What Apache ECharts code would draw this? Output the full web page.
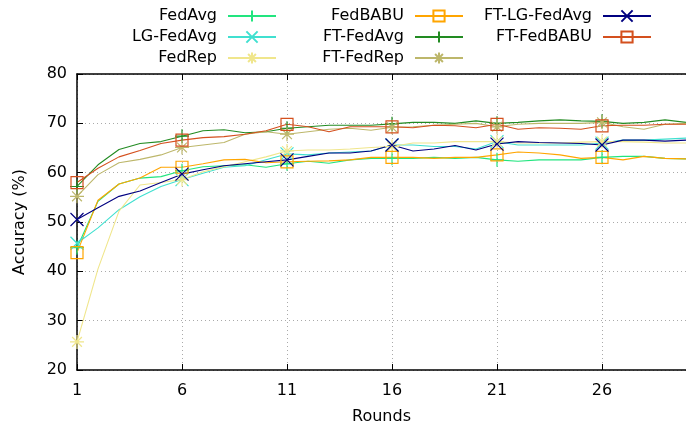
<!DOCTYPE html>
<html>
<head>
<meta charset="utf-8">
<script src="https://cdn.jsdelivr.net/npm/echarts@6/dist/echarts.min.js"></script>
<style>
  html, body { margin: 0; padding: 0; background: #fff; }
  #chart { width: 686px; height: 430px; }
</style>
</head>
<body>
<div id="chart"></div>
<script>
// Rounds 1..30
const rounds = Array.from({ length: 30 }, (_, i) => String(i + 1));
const yTicks = [20, 30, 40, 50, 60, 70, 80];

// Test accuracy (%) per round
const fedAvg = [44.8, 54.2, 57.7, 58.9, 59.2, 60.4, 61.2, 61.4, 61.6, 61.1,
  61.8, 62.3, 61.9, 62.6, 62.9, 62.9, 62.9, 63.1, 62.9, 63.1,
  62.6, 62.3, 62.6, 62.6, 62.6, 63.1, 63.3, 63.3, 62.9, 62.8];
const lgFedAvg = [45.7, 48.8, 52.5, 55.1, 57.2, 58.6, 59.9, 61.1, 61.4, 62.6,
  63.8, 63.6, 64.0, 64.2, 64.4, 65.6, 65.6, 65.3, 65.3, 64.8,
  66.3, 65.6, 65.6, 65.6, 65.6, 66.0, 66.6, 66.6, 66.8, 67.0];
const fedRep = [25.7, 40.5, 52.2, 57.5, 58.0, 58.6, 60.2, 61.2, 62.2, 63.2,
  64.4, 64.6, 64.6, 64.8, 65.1, 65.3, 66.0, 66.0, 66.3, 66.3,
  66.3, 66.0, 66.0, 66.0, 66.2, 66.3, 66.3, 66.2, 66.0, 66.0];
const fedBabu = [43.8, 54.4, 57.7, 58.9, 61.1, 61.1, 61.8, 62.6, 62.7, 62.0,
  62.2, 62.3, 62.4, 62.6, 63.1, 63.1, 63.1, 62.9, 63.1, 63.1,
  63.6, 64.2, 64.0, 63.6, 62.9, 63.1, 62.6, 63.3, 62.9, 62.8];
const ftFedAvg = [57.2, 61.6, 64.7, 65.9, 66.3, 67.4, 68.5, 68.7, 68.1, 68.3,
  69.0, 69.3, 69.6, 69.6, 69.6, 69.9, 70.2, 70.2, 70.0, 70.5,
  70.0, 70.2, 70.5, 70.7, 70.5, 70.4, 70.0, 70.2, 70.7, 70.2];
const ftFedRep = [55.2, 59.6, 62.0, 62.7, 63.6, 65.1, 65.6, 66.1, 67.8, 68.3,
  67.8, 68.3, 68.8, 69.0, 68.6, 69.2, 69.3, 69.6, 69.8, 70.0,
  69.3, 69.8, 70.0, 70.0, 70.0, 70.2, 69.3, 68.8, 69.8, 70.0];
const ftLgFedAvg = [50.5, 52.9, 55.2, 56.3, 58.0, 59.7, 60.6, 61.4, 61.8, 62.2,
  62.6, 63.3, 64.0, 64.0, 64.4, 65.6, 64.4, 64.8, 65.5, 64.6,
  65.8, 66.3, 66.1, 66.0, 65.9, 65.6, 66.6, 66.6, 66.4, 66.6];
const ftFedBabu = [58.0, 60.9, 63.2, 64.5, 65.9, 66.6, 67.1, 67.3, 67.8, 68.5,
  69.8, 69.3, 68.3, 69.3, 69.3, 69.3, 69.1, 69.6, 69.5, 69.1,
  69.8, 68.8, 69.1, 69.0, 68.8, 69.5, 69.6, 69.6, 69.8, 69.8];

// Point glyphs
const PLUS = 'path://M0,5L10,5M5,0L5,10';
const CROSS = 'path://M0,0L10,10M10,0L0,10';
const STAR = 'path://M0,5L10,5M5,0L5,10M1.5,1.5L8.5,8.5M8.5,1.5L1.5,8.5';
const SQUARE = 'path://M0,0L10,0L10,10L0,10Z';

const FONT = 'DejaVu Sans';

function makeSeries(name, data, color, symbol, size) {
  return {
    name: name,
    type: 'line',
    data: data,
    color: color,
    symbol: symbol,
    symbolSize: function (v, p) { return p.dataIndex % 5 === 0 ? size : 0; },
    showSymbol: true,
    showAllSymbol: true,
    lineStyle: { color: color, width: 1.1 },
    itemStyle: { color: 'rgba(0,0,0,0)', borderColor: color, borderWidth: 1.2 },
    emphasis: { disabled: true },
    z: 3
  };
}

const series = [
  makeSeries('FedAvg', fedAvg, '#22e57f', PLUS, 14),
  makeSeries('LG-FedAvg', lgFedAvg, '#40e0d0', CROSS, 13),
  makeSeries('FedRep', fedRep, '#f0e68c', STAR, 14),
  makeSeries('FedBABU', fedBabu, '#ffa500', SQUARE, 12),
  makeSeries('FT-FedAvg', ftFedAvg, '#228b22', PLUS, 14),
  makeSeries('FT-FedRep', ftFedRep, '#bdb76b', STAR, 14),
  makeSeries('FT-LG-FedAvg', ftLgFedAvg, '#000080', CROSS, 13),
  makeSeries('FT-FedBABU', ftFedBabu, '#d4501e', SQUARE, 12)
];

function legendColumn(names, right) {
  return {
    data: names,
    orient: 'vertical',
    align: 'right',
    right: right,
    top: 8,
    padding: 0,
    itemWidth: 48,
    itemHeight: 14,
    itemGap: 5,
    selectedMode: false,
    textStyle: { fontFamily: FONT, fontSize: 16, color: '#000', padding: [0, 6, 0, 0] }
  };
}

const axisText = { fontFamily: FONT, fontSize: 16, color: '#000' };

const chart = echarts.init(document.getElementById('chart'), null, { renderer: 'canvas' });
chart.setOption({
  animation: false,
  backgroundColor: '#fff',
  legend: [
    legendColumn(['FedAvg', 'LG-FedAvg', 'FedRep'], 409),
    legendColumn(['FedBABU', 'FT-FedAvg', 'FT-FedRep'], 222),
    legendColumn(['FT-LG-FedAvg', 'FT-FedBABU'], 34)
  ],
  grid: { left: 77, right: -7, top: 74, bottom: 58, containLabel: false },
  xAxis: [
    {
      type: 'category',
      data: rounds,
      boundaryGap: false,
      position: 'bottom',
      name: 'Rounds',
      nameLocation: 'middle',
      nameGap: 39,
      nameTextStyle: axisText,
      axisLine: { lineStyle: { color: '#000', width: 1.5 } },
      axisTick: { inside: true, length: 6, interval: 4, lineStyle: { color: '#000' } },
      axisLabel: Object.assign({ interval: 4, margin: 13 }, axisText),
      splitLine: { show: true, interval: 4, lineStyle: { color: '#aaa', type: [1, 3], width: 1 } }
    },
    {
      type: 'category',
      data: rounds,
      boundaryGap: false,
      position: 'top',
      axisLine: { lineStyle: { color: '#000', width: 1.5 } },
      axisTick: { inside: true, length: 6, interval: 4, lineStyle: { color: '#000' } },
      axisLabel: { show: false },
      splitLine: { show: false }
    }
  ],
  yAxis: [
    {
      type: 'value',
      min: yTicks[0],
      max: yTicks[yTicks.length - 1],
      interval: 10,
      name: 'Accuracy (%)',
      nameLocation: 'middle',
      nameGap: 49,
      nameTextStyle: axisText,
      axisLine: { show: true, lineStyle: { color: '#000', width: 1.5 } },
      axisTick: { show: true, inside: true, length: 6, lineStyle: { color: '#000' } },
      axisLabel: Object.assign({ margin: 10 }, axisText),
      splitLine: { show: true, lineStyle: { color: '#aaa', type: [1, 3], width: 1 } }
    }
  ],
  series: series
});
</script>
</body>
</html>
